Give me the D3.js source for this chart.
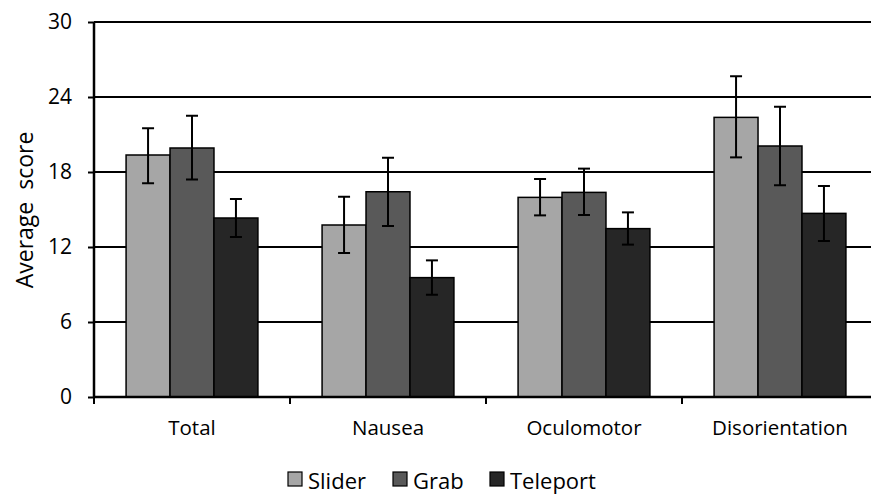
<!DOCTYPE html>
<html><head><meta charset="utf-8">
<script src="https://cdn.jsdelivr.net/npm/d3@7"></script>
<style>body{margin:0;background:#fff}svg{display:block;font-family:"Open Sans",sans-serif}</style>
</head><body>
<svg id="c" width="871" height="495"></svg>
<script>
const categories = ["Total","Nausea","Oculomotor","Disorientation"];
const series = ["Slider","Grab","Teleport"];
const colors = ["#a6a6a6","#595959","#262626"];
const slider = [19.36, 13.76, 15.97, 22.37];
const grab = [19.92, 16.42, 16.37, 20.08];
const teleport = [14.32, 9.55, 13.47, 14.69];
const sliderLo = [17.1, 11.52, 14.53, 19.17];
const sliderHi = [21.5, 16.02, 17.44, 25.66];
const grabLo = [17.4, 13.68, 14.56, 16.94];
const grabHi = [22.5, 19.14, 18.27, 23.22];
const teleportLo = [12.8, 8.18, 12.19, 12.48];
const teleportHi = [15.84, 10.93, 14.77, 16.88];
const yTicks = [0,6,12,18,24,30];

const vals = [slider, grab, teleport];
const los = [sliderLo, grabLo, teleportLo];
const his = [sliderHi, grabHi, teleportHi];

const svg = d3.select("#c");
const L = 94, R = 878, T = 22, B = 397;
const x0 = d3.scaleBand().domain(categories).range([L, R]).paddingInner(0).paddingOuter(0);
const x1 = d3.scaleBand().domain(series).range([0, x0.bandwidth()]).paddingOuter(0.73).paddingInner(0);
const y = d3.scaleLinear().domain([0,30]).range([B, T]);

// gridlines
svg.append("g").selectAll("line").data(yTicks.filter(d=>d>0)).join("line")
  .attr("x1", L).attr("x2", R).attr("y1", d=>y(d)).attr("y2", d=>y(d))
  .attr("stroke","#000").attr("stroke-width",2);

// bars
const data = [];
categories.forEach((c,i)=>series.forEach((s,j)=>data.push({c,s,j,v:vals[j][i],lo:los[j][i],hi:his[j][i]})));
svg.append("g").selectAll("rect").data(data).join("rect")
  .attr("x", d=>x0(d.c)+x1(d.s)).attr("width", x1.bandwidth())
  .attr("y", d=>y(d.v)).attr("height", d=>B-y(d.v))
  .attr("fill", d=>colors[d.j]).attr("stroke","#000").attr("stroke-width",1.5);

// error bars
const eg = svg.append("g").attr("stroke","#000").attr("stroke-width",2);
data.forEach(d=>{
  const cx = x0(d.c)+x1(d.s)+x1.bandwidth()/2;
  eg.append("line").attr("x1",cx).attr("x2",cx).attr("y1",y(d.hi)).attr("y2",y(d.lo));
  eg.append("line").attr("x1",cx-6).attr("x2",cx+6).attr("y1",y(d.hi)).attr("y2",y(d.hi));
  eg.append("line").attr("x1",cx-6).attr("x2",cx+6).attr("y1",y(d.lo)).attr("y2",y(d.lo));
});

// y axis
const ya = svg.append("g").attr("transform",`translate(${L},0)`)
  .call(d3.axisLeft(y).tickValues(yTicks).tickSize(6).tickPadding(16));
ya.select(".domain").attr("stroke","#000").attr("stroke-width",2.5).attr("d",`M0,${T}V${B}`);
ya.selectAll(".tick line").attr("stroke","#000").attr("stroke-width",2);
ya.selectAll(".tick text").attr("font-size",21).attr("fill","#000").attr("font-family","Open Sans");

// x axis
const xa = svg.append("g").attr("transform",`translate(0,${B})`)
  .call(d3.axisBottom(x0).tickSize(0));
xa.select(".domain").attr("stroke","#000").attr("stroke-width",2.5).attr("d",`M${L},0H${R}`);
xa.selectAll(".tick text").attr("font-size",20.5).attr("fill","#000").attr("font-family","Open Sans")
  .attr("y",38).attr("dy",0);
// boundary ticks
const bounds = categories.map(c=>x0(c)).concat([R]);
xa.selectAll(".bt").data(bounds).join("line").attr("class","bt")
  .attr("x1",d=>d).attr("x2",d=>d).attr("y1",0).attr("y2",7).attr("stroke","#000").attr("stroke-width",2);

// y title
svg.append("text").attr("transform","translate(33,210) rotate(-90)")
  .attr("text-anchor","middle").attr("font-size",23).attr("fill","#000")
  .style("white-space","pre").text("Average  score");

// legend
const legSq = [288, 393, 490];
const legTx = [308, 413, 510];
const lg = svg.append("g");
series.forEach((s,j)=>{
  lg.append("rect").attr("x",legSq[j]).attr("y",472).attr("width",14).attr("height",14)
    .attr("fill",colors[j]).attr("stroke","#000").attr("stroke-width",1.2);
  lg.append("text").attr("x",legTx[j]).attr("y",489).attr("font-size",22).attr("fill","#000").text(s);
});
</script>
</body></html>
